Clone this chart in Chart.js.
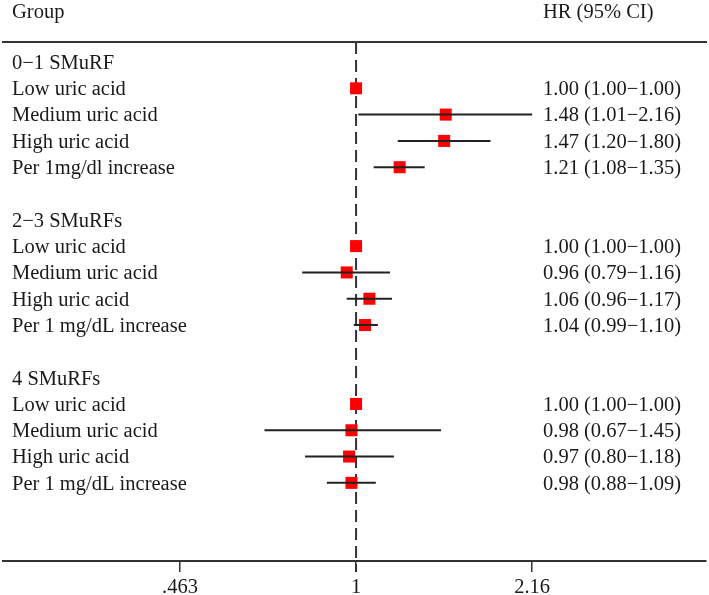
<!DOCTYPE html>
<html lang="en">
<head>
<meta charset="utf-8" />
<script src="https://cdn.jsdelivr.net/npm/chart.js@4.4.1/dist/chart.umd.min.js"></script>
<style>
  html, body { margin: 0; padding: 0; background: #fff; }
</style>
<title>Forest plot</title>
</head>
<body>
<canvas id="forest" width="709" height="595"></canvas>
<script>
// rows, top to bottom (empty label = spacer row)
const groupLabels = [
  "0\u22121 SMuRF", "Low uric acid", "Medium uric acid", "High uric acid", "Per 1mg/dl increase", "",
  "2\u22123 SMuRFs", "Low uric acid", "Medium uric acid", "High uric acid", "Per 1 mg/dL increase", "",
  "4 SMuRFs", "Low uric acid", "Medium uric acid", "High uric acid", "Per 1 mg/dL increase"
];
const hr     = [null, 1.00, 1.48, 1.47, 1.21, null, null, 1.00, 0.96, 1.06, 1.04, null, null, 1.00, 0.98, 0.97, 0.98];
const ciLow  = [null, 1.00, 1.01, 1.20, 1.08, null, null, 1.00, 0.79, 0.96, 0.99, null, null, 1.00, 0.67, 0.80, 0.88];
const ciHigh = [null, 1.00, 2.16, 1.80, 1.35, null, null, 1.00, 1.16, 1.17, 1.10, null, null, 1.00, 1.45, 1.18, 1.09];

const xTickValues = [0.463, 1, 2.16];
const xTickLabels = [".463", "1", "2.16"];
const headers = ["Group", "HR (95% CI)"];

const FONT = '"Liberation Serif", "Times New Roman", serif';
const FONT_SIZE = 20.5;
const INK = "#1a1a1a";
const LINE = "#333";

// CI segments, broken between rows by a null point
var ciPoints = [];
hr.forEach((v, i) => {
  if (v === null) return;
  ciPoints.push({ x: ciLow[i], y: i }, { x: ciHigh[i], y: i }, { x: ciHigh[i], y: null });
});
var hrPoints = [];
hr.forEach((v, i) => { if (v !== null) hrPoints.push({ x: v, y: i }); });

const fmt = (v) => v.toFixed(2);

// text columns, reference line and top rule
const forestText = {
  id: "forestText",
  beforeDatasetsDraw(chart) {
    const { ctx, chartArea, scales } = chart;
    const x1 = scales.x.getPixelForValue(1);
    ctx.save();
    ctx.strokeStyle = LINE;
    ctx.lineWidth = 2;
    ctx.setLineDash([12, 6]);
    ctx.beginPath();
    ctx.moveTo(x1, chartArea.top);
    ctx.lineTo(x1, chartArea.bottom + 11);
    ctx.stroke();
    ctx.setLineDash([]);
    ctx.beginPath();
    ctx.moveTo(chartArea.left - 1, chartArea.top);
    ctx.lineTo(chartArea.right + 1, chartArea.top);
    ctx.stroke();
    ctx.restore();
  },
  afterDraw(chart) {
    const { ctx, chartArea, scales } = chart;
    ctx.save();
    ctx.fillStyle = INK;
    ctx.font = FONT_SIZE + "px " + FONT;
    ctx.textAlign = "left";
    ctx.textBaseline = "middle";
    ctx.fillText(headers[0], 12, chartArea.top - 29);
    ctx.fillText(headers[1], 543, chartArea.top - 29);
    groupLabels.forEach((lab, i) => {
      const y = scales.y.getPixelForValue(i) + 1.5;
      if (lab) ctx.fillText(lab, 12, y);
      if (hr[i] !== null) {
        ctx.fillText(fmt(hr[i]) + " (" + fmt(ciLow[i]) + "\u2212" + fmt(ciHigh[i]) + ")", 543, y);
      }
    });
    ctx.restore();
  }
};

new Chart(document.getElementById("forest").getContext("2d"), {
  type: "scatter",
  data: {
    datasets: [
      { data: ciPoints, showLine: true, spanGaps: false, borderColor: "#222", borderWidth: 2, pointRadius: 0 },
      { data: hrPoints, pointStyle: "rect", pointRadius: 8.5, backgroundColor: "#ff0000", borderWidth: 0 }
    ]
  },
  options: {
    responsive: false,
    animation: false,
    events: [],
    layout: { autoPadding: false, padding: { top: 42, left: 3, right: 3, bottom: 0 } },
    plugins: { legend: { display: false }, tooltip: { enabled: false } },
    scales: {
      x: {
        type: "logarithmic",
        min: 0.2135,
        max: 4.62,
        afterBuildTicks: (s) => { s.ticks = xTickValues.map((v) => ({ value: v })); },
        afterFit: (s) => { s.height = 34; },
        ticks: {
          autoSkip: false,
          maxRotation: 0,
          padding: 3,
          color: INK,
          font: { family: FONT, size: FONT_SIZE },
          callback: (v, idx) => xTickLabels[idx]
        },
        grid: { drawOnChartArea: false, drawTicks: true, tickLength: 11, color: LINE, lineWidth: 1.5 },
        border: { display: true, color: LINE, width: 2 }
      },
      y: {
        type: "linear",
        display: false,
        reverse: true,
        min: -0.76,
        max: 18.97
      }
    }
  },
  plugins: [forestText]
});
</script>
</body>
</html>
